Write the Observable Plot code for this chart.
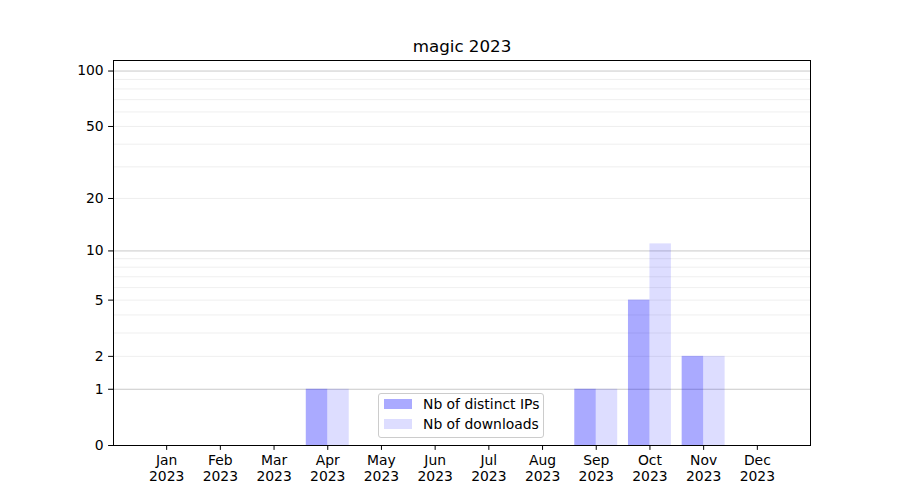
<!DOCTYPE html>
<html><head><meta charset="utf-8">
<script src="https://cdn.jsdelivr.net/npm/d3@7"></script>
<script src="https://cdn.jsdelivr.net/npm/@observablehq/plot@0.6"></script>
<style>
body{margin:0;background:#fff;}
#wrap{position:relative;width:900px;height:500px;font-family:"DejaVu Sans";}
#legend{position:absolute;left:378px;top:392.5px;width:166px;height:45.5px;box-sizing:border-box;border:1px solid #cccccc;border-radius:3px;background:rgba(255,255,255,0.8);}
.patch{position:absolute;left:384px;width:27.8px;height:9.7px;}
.ltext{position:absolute;left:423px;font-size:13.9px;line-height:16px;white-space:nowrap;color:#000;}
</style></head><body><div id="wrap"></div>
<script>
const months = ["Jan","Feb","Mar","Apr","May","Jun","Jul","Aug","Sep","Oct","Nov","Dec"];
const year = "2023";
const ips = [0,0,0,1,0,0,0,0,1,5,2,0];
const downloads = [0,0,0,1,0,0,0,0,1,11,2,0];
const yTicks = [0,1,2,5,10,20,50,100];
const majorGrid = [1,10,100];
const minorGrid = [2,3,4,5,6,7,8,9,20,30,40,50,60,70,80,90];
const title = "magic 2023";
const seriesLabels = ["Nb of distinct IPs","Nb of downloads"];
const seriesColors = ["#aaaaff","#ddddff"];

const data = months.map((m,i)=>({i, m, ips: ips[i], downloads: downloads[i]}));
const chart = Plot.plot({
  width:900, height:500, marginLeft:113, marginRight:90, marginTop:60, marginBottom:55,
  style:{fontFamily:"DejaVu Sans", fontSize:"13.9px", color:"black", background:"white", overflow:"visible"},
  x:{type:"linear", domain:[-0.99,11.99]},
  y:{type:"symlog", domain:[0,114]},
  marks:[
    Plot.ruleY(minorGrid,{stroke:"#ebebeb", strokeWidth:0.8}),
    Plot.ruleY(majorGrid,{stroke:"#c9c9c9", strokeWidth:1}),
    Plot.rect(data,{x1:d=>d.i-0.4, x2:d=>d.i, y1:0, y2:"ips", fill:"blue", fillOpacity:0.333}),
    Plot.rect(data,{x1:d=>d.i, x2:d=>d.i+0.4, y1:0, y2:"downloads", fill:"blue", fillOpacity:0.133}),
    Plot.frame({stroke:"black"}),
    Plot.axisY({ticks:yTicks, tickFormat:d=>String(d), tickSize:4.9, tickPadding:4.9, label:null, fontSize:13.9}),
    Plot.axisX({ticks:d3.range(12), tickFormat:i=>months[i]+"\n"+year, tickSize:4.9, tickPadding:3.6, label:null, lineHeight:1.15, fontSize:13.9}),
    Plot.text([title],{frameAnchor:"top", dy:-8.3, lineAnchor:"bottom", fontSize:16.7})
  ]
});
const wrap = document.getElementById("wrap");
wrap.appendChild(chart);
const lg = document.createElement("div");
lg.id = "legend";
wrap.appendChild(lg);
const rowCenters = [404, 424.3];
seriesLabels.forEach((lab,k)=>{
  const p = document.createElement("div");
  p.className = "patch";
  p.style.top = (rowCenters[k]-4.85)+"px";
  p.style.background = seriesColors[k];
  wrap.appendChild(p);
  const t = document.createElement("div");
  t.className = "ltext";
  t.style.top = (rowCenters[k]-8)+"px";
  t.textContent = lab;
  wrap.appendChild(t);
});
</script></body></html>
